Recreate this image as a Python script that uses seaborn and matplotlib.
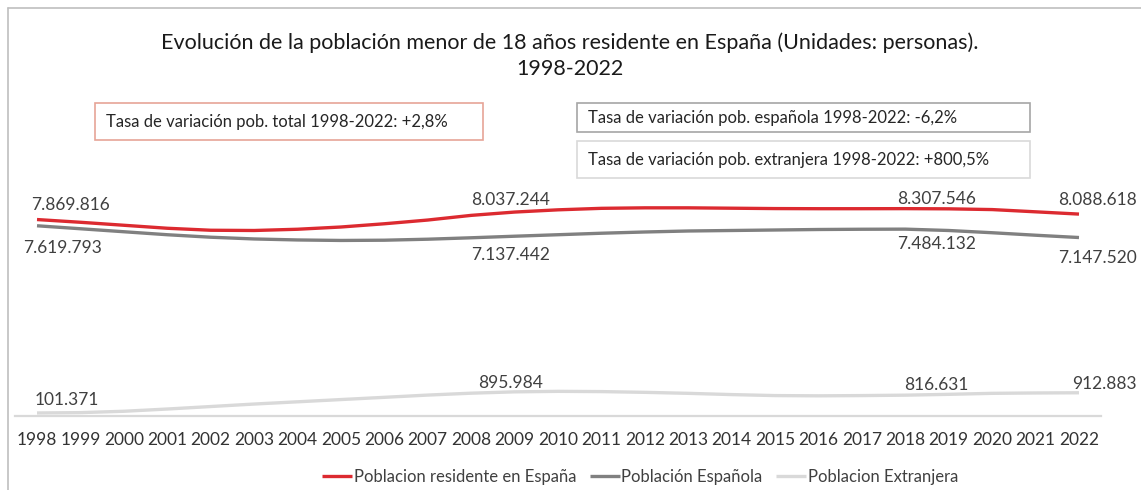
import matplotlib
matplotlib.use("Agg")
import matplotlib.pyplot as plt
import seaborn as sns
import pandas as pd
from matplotlib.lines import Line2D
from matplotlib.patches import Rectangle

# ---------------- data ----------------
years = list(range(1998, 2023))
total = [7869816, 7760000, 7640000, 7520000, 7440000, 7430000, 7480000, 7570000,
         7700000, 7850000, 8037244, 8170000, 8260000, 8320000, 8340000, 8340000,
         8325000, 8310000, 8305000, 8305000, 8307546, 8300000, 8270000, 8180000, 8088618]
spanish = [7619793, 7500000, 7380000, 7260000, 7160000, 7090000, 7050000, 7030000,
           7040000, 7080000, 7137442, 7200000, 7260000, 7320000, 7370000, 7410000,
           7430000, 7450000, 7470000, 7480000, 7484132, 7430000, 7340000, 7240000, 7147520]
foreign = [101371, 115000, 170000, 260000, 360000, 460000, 550000, 640000,
           730000, 820000, 895984, 950000, 970000, 960000, 930000, 890000,
           840000, 800000, 790000, 800000, 816631, 850000, 890000, 905000, 912883]
series_names = ["Poblacion residente en España", "Población Española", "Poblacion Extranjera"]
labelled_years = [1998, 2008, 2018, 2022]

title = "Evolución de la población menor de 18 años residente en España (Unidades: personas).\n1998-2022"
box_texts = ["Tasa de variación pob. total 1998-2022: +2,8%",
             "Tasa de variación pob. española 1998-2022: -6,2%",
             "Tasa de variación pob. extranjera 1998-2022: +800,5%"]

df = pd.DataFrame({
    "year": years * 3,
    "value": total + spanish + foreign,
    "serie": [series_names[0]] * len(years) + [series_names[1]] * len(years) + [series_names[2]] * len(years),
})

# ---------------- style ----------------
W, H = 1141, 490
colors = {series_names[0]: "#dc2a30", series_names[1]: "#808080", series_names[2]: "#d9d9d9"}
txt_col = "#404040"
FONT = ["Lato", "DejaVu Sans"]

sns.set_theme(style="white")
plt.rcParams["font.family"] = FONT

fig = plt.figure(figsize=(W / 100, H / 100), dpi=100)
fig.patch.set_facecolor("white")

def fx(x):
    return x / W

def fy(y):
    return 1 - y / H

# axes placement (pixel geometry)
x_left, x_right = 15.3, 1100.7
y_bottom, y_top = 415.5, 116.7
ax = fig.add_axes([fx(x_left), fy(y_bottom), fx(x_right) - fx(x_left), fy(y_top) - fy(y_bottom)])
ax.set_facecolor("none")

sns.lineplot(data=df, x="year", y="value", hue="serie", hue_order=series_names,
             palette=colors, linewidth=2.4, ax=ax, legend=True)
for ln in ax.lines:
    ln.set_solid_capstyle("butt")
ax.lines[0].set_zorder(4)
ax.lines[1].set_zorder(3)
ax.lines[2].set_zorder(2)

ax.set_xlim(1997.5, 2022.5)
ax.set_ylim(0, 12e6)
ax.set_xticks(years)
ax.set_xticklabels([str(y) for y in years], fontsize=12.5, color="#333333")
ax.set_yticks([])
ax.set_xlabel("")
ax.set_ylabel("")
ax.tick_params(axis="x", length=0, pad=12)
for s in ["top", "right", "left"]:
    ax.spines[s].set_visible(False)
ax.spines["bottom"].set_color("#d9d9d9")
ax.spines["bottom"].set_linewidth(1.6)

# data labels
def fmt(v):
    return f"{v:,}".replace(",", ".")

offsets = {
    series_names[0]: {1998: (33, 15), 2008: (39, 15), 2018: (31, 10), 2022: (58, 14)},
    series_names[1]: {1998: (26, -22), 2008: (39, -17), 2018: (31, -15), 2022: (58, -20)},
    series_names[2]: {1998: (30, 13), 2008: (39, 10), 2018: (31, 10), 2022: (58, 9)},
}
for name, vals in zip(series_names, [total, spanish, foreign]):
    for yr in labelled_years:
        v = vals[years.index(yr)]
        dx, dy = offsets[name][yr]
        ha = "right" if yr == 2022 else "center"
        ax.annotate(fmt(v), xy=(yr, v), xytext=(dx, dy), textcoords="offset pixels",
                    ha=ha, va="center", fontsize=12.5, color=txt_col, zorder=6,
                    annotation_clip=False)

# legend
handles, labels = ax.get_legend_handles_labels()
ax.get_legend().remove()
leg = fig.legend(handles, labels, loc="center", ncol=3, frameon=False,
                 bbox_to_anchor=(fx(640), fy(477)), bbox_transform=fig.transFigure,
                 fontsize=12, handlelength=1.8, handletextpad=0.1, columnspacing=0.8,
                 labelcolor="#404040")

# title
fig.text(fx(570), fy(56), title, ha="center", va="center", fontsize=15.5,
         color="#1a1a1a", linespacing=1.35)

# text boxes
boxes = [
    (95, 103, 483, 140, "#e6a497", box_texts[0]),
    (577, 103, 1030, 132, "#a6a6a6", box_texts[1]),
    (577, 141, 1030, 178, "#d9d9d9", box_texts[2]),
]
for x0, y0, x1, y1, ec, t in boxes:
    fig.patches.append(Rectangle((fx(x0), fy(y1)), fx(x1) - fx(x0), fy(y0) - fy(y1),
                                 transform=fig.transFigure, facecolor="white",
                                 edgecolor=ec, linewidth=1.2, zorder=1))
    fig.text(fx(x0 + 11), fy((y0 + y1) / 2), t, ha="left", va="center",
             fontsize=12, color="#262626", zorder=2)

# outer frame (top and left edges)
fig.lines.append(Line2D([fx(8), fx(W)], [fy(8), fy(8)], transform=fig.transFigure,
                        color="#bfbfbf", linewidth=1.2))
fig.lines.append(Line2D([fx(8), fx(8)], [fy(8), fy(H)], transform=fig.transFigure,
                        color="#bfbfbf", linewidth=1.2))

fig.savefig("out.png", dpi=100, facecolor="white")
